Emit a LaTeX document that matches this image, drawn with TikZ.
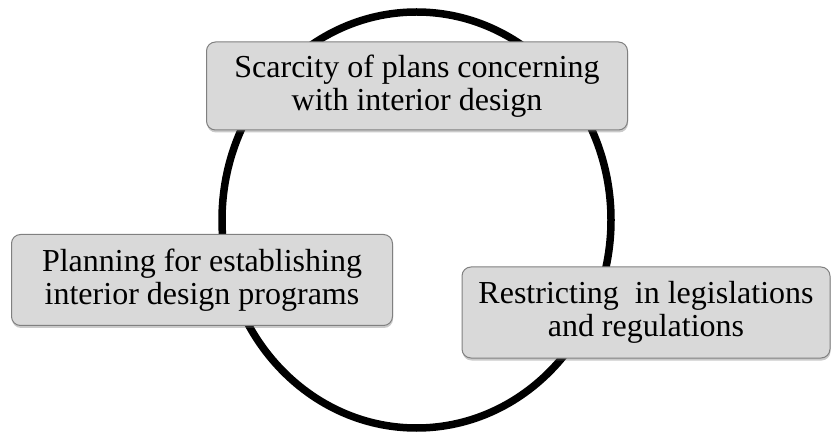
\documentclass[tikz,border=0pt]{standalone}
\usepackage{fontspec}
\setmainfont{Liberation Serif}
\usetikzlibrary{shadows,shapes.geometric}
\begin{document}
\begin{tikzpicture}[x=1pt,y=-1pt,
  boxstyle/.style={draw=black!50, line width=1pt, fill=black!15, rounded corners=9pt,
    align=center, inner sep=0pt, font=\fontsize{32}{33}\selectfont,
    drop shadow={shadow xshift=0.5pt, shadow yshift=-2.5pt, opacity=0.35, fill=black!60}},
  ringstyle/.style={draw=black, line width=7.5pt}]
\useasboundingbox (0,0) rectangle (832,435);
\node[ringstyle, ellipse, minimum width=389pt, minimum height=416pt, inner sep=0pt] (ring) at (416.5,220) {};
\node[boxstyle, minimum width=421pt, minimum height=88pt] (top) at (417,86)
  {Scarcity of plans concerning\\with interior design};
\node[boxstyle, minimum width=381pt, minimum height=91pt] (left) at (202,280)
  {Planning for establishing\\interior design programs};
\node[boxstyle, minimum width=368pt, minimum height=91pt] (right) at (646,312.5)
  {Restricting\ \ in legislations\\and regulations};
\end{tikzpicture}
\end{document}
